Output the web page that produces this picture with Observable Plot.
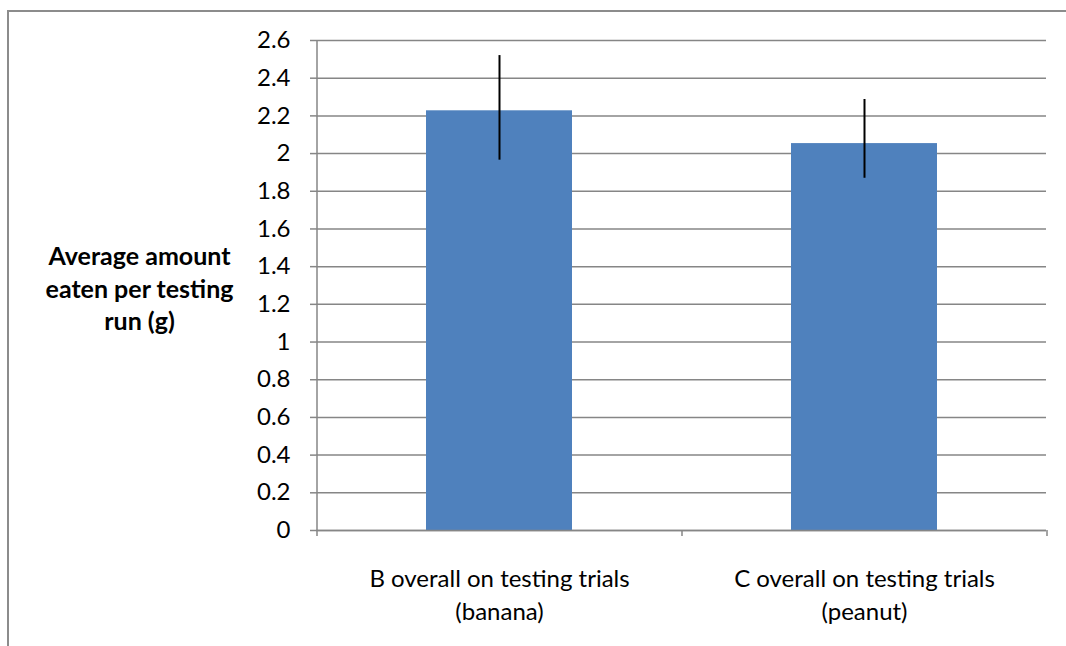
<!DOCTYPE html>
<html>
<head>
<meta charset="utf-8">
<script src="https://cdn.jsdelivr.net/npm/d3@7"></script>
<script src="https://cdn.jsdelivr.net/npm/@observablehq/plot@0.6"></script>
<style>
  html, body { margin: 0; padding: 0; background: #fff; }
  #wrap { position: relative; width: 1066px; height: 646px; overflow: hidden; }
  #border { position: absolute; left: 7px; top: 10px; width: 1100px; height: 700px;
            border-top: 2px solid #8c8c8c; border-left: 2px solid #8c8c8c; box-sizing: border-box; }
  #chart { position: absolute; left: 0; top: 0; }
</style>
</head>
<body>
<div id="wrap"><div id="border"></div><div id="chart"></div></div>
<script>
const categories = ["B overall on testing trials\n(banana)", "C overall on testing trials\n(peanut)"];
const means = [2.227, 2.053];
const errLow = [1.965, 1.869];
const errHigh = [2.52, 2.287];
const yTicks = [0, 0.2, 0.4, 0.6, 0.8, 1, 1.2, 1.4, 1.6, 1.8, 2, 2.2, 2.4, 2.6];
const yTitle = "Average amount\neaten per testing\nrun (g)";

const data = categories.map((c, i) => ({cat: c, mean: means[i], lo: errLow[i], hi: errHigh[i]}));

const W = 1066, H = 646, mL = 316, mR = 20;
const step = (W - mL - mR) / (categories.length - 0.6 + 2 * 0.3);

const chart = Plot.plot({
  width: W,
  height: H,
  marginLeft: mL,
  marginRight: mR,
  marginTop: 40,
  marginBottom: 116,
  style: {fontFamily: "Lato, 'Open Sans', sans-serif", fontSize: "24px", color: "black", background: "transparent"},
  x: {domain: categories, paddingInner: 0.6, paddingOuter: 0.3, label: null},
  y: {domain: [0, 2.6], label: null},
  marks: [
    Plot.gridY(yTicks, {stroke: "#868686", strokeOpacity: 1, strokeWidth: 1.5}),
    Plot.barY(data, {x: "cat", y: "mean", fill: "#4F81BD"}),
    Plot.ruleX(data, {x: "cat", y1: "lo", y2: "hi", stroke: "black", strokeWidth: 2}),
    Plot.ruleY([0], {stroke: "#868686", strokeWidth: 1.5}),
    Plot.ruleX([categories[0]], {x: d => d, dx: -step / 2, y1: 0, y2: 2.6, stroke: "#868686", strokeWidth: 1.5}),
    Plot.axisY({ticks: yTicks, text: null, tickSize: 6, color: "#868686", strokeWidth: 1.5}),
    Plot.axisY({ticks: yTicks, tickSize: 0, tickPadding: 26, tickFormat: d => String(+d.toFixed(1)), fill: "black", fontSize: 24}),
    Plot.axisX({text: null, tickSize: 6, dx: -step / 2, color: "#868686", strokeWidth: 1.5}),
    Plot.axisX({ticks: [categories[categories.length - 1]], text: null, tickSize: 6, dx: step / 2, color: "#868686", strokeWidth: 1.5}),
    Plot.axisX({tickSize: 0, tickPadding: 33, lineAnchor: "top", lineHeight: 1.375, fill: "black", fontSize: 24}),
    Plot.text([yTitle], {text: d => d, frameAnchor: "left", dx: -177, dy: 2, textAnchor: "middle", lineAnchor: "middle", lineHeight: 1.3, fontSize: 25, fontWeight: "bold", fill: "black"})
  ]
});
document.getElementById("chart").appendChild(chart);
</script>
</body>
</html>
